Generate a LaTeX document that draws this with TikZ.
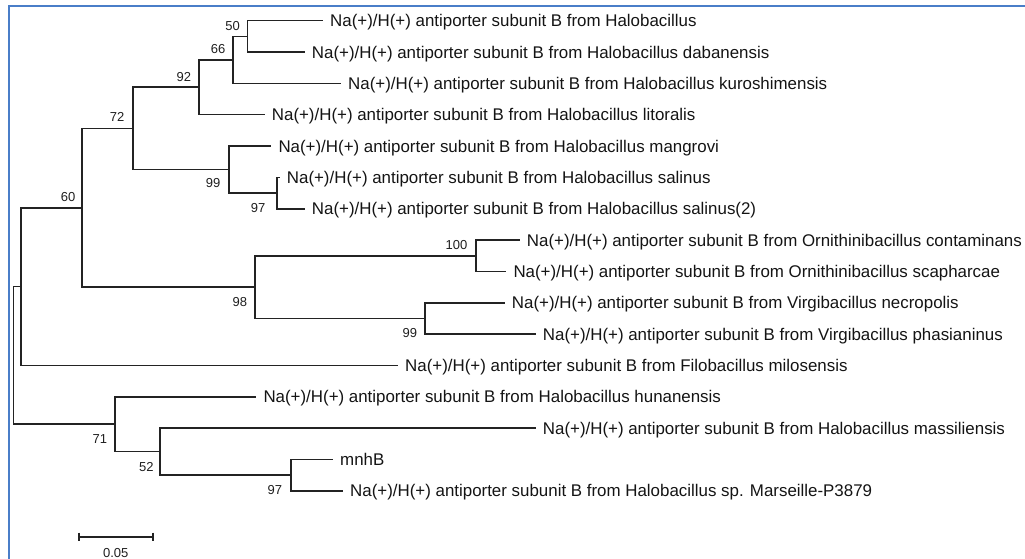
\documentclass[tikz,border=0pt]{standalone}
\usepackage{fontspec}
\newfontfamily\arialf{Liberation Sans}
\newcommand\leaffont{\arialf\fontsize{16.9}{20}\selectfont}
\newcommand\numfont{\arialf\fontsize{13}{15}\selectfont}
\definecolor{frameblue}{RGB}{74,126,200}
\definecolor{treeline}{RGB}{35,35,35}
\begin{document}
\begin{tikzpicture}[x=1pt,y=-1pt,
  br/.style={line width=1.6pt, draw=treeline},
  leaf/.style={anchor=west, font=\leaffont, text=black!92, text height=12.1pt, text depth=0pt, inner ysep=0pt, inner xsep=7pt},
  num/.style={anchor=east, font=\numfont, text=black!88, text height=9.3pt, text depth=0pt, inner sep=0pt}]
\useasboundingbox (0,0) rectangle (1025,559);
% frame
\draw[frameblue, line width=2.2pt] (9,559) -- (9,5.7) -- (1025,5.7);
% internal nodes
\coordinate (root) at (13.3,355.4);
\coordinate (nA) at (20.7,286.6);
\coordinate (n60) at (81.7,207.8);
\coordinate (n72) at (132.7,128.45);
\coordinate (n92) at (199,87.3);
\coordinate (n66) at (232.7,59.9);
\coordinate (n50) at (247.3,36.35);
\coordinate (n99a) at (228.7,169.6);
\coordinate (n97a) at (276.7,193.05);
\coordinate (n98) at (255,287.1);
\coordinate (n100) at (476,255.75);
\coordinate (n99b) at (425,318.45);
\coordinate (n71) at (115,424.2);
\coordinate (n52) at (160,451.6);
\coordinate (n97c) at (291,475.15);
% leaves
\node[leaf] (r1) at (323,20.7) {Na(+)/H(+) antiporter subunit B from Halobacillus};
\node[leaf] (r2) at (304.7,52.0) {Na(+)/H(+) antiporter subunit B from Halobacillus dabanensis};
\node[leaf] (r3) at (341,83.4) {Na(+)/H(+) antiporter subunit B from Halobacillus kuroshimensis};
\node[leaf] (r4) at (264.7,114.7) {Na(+)/H(+) antiporter subunit B from Halobacillus litoralis};
\node[leaf] (r5) at (271.3,146.1) {Na(+)/H(+) antiporter subunit B from Halobacillus mangrovi};
\node[leaf] (r6) at (279.7,177.4) {Na(+)/H(+) antiporter subunit B from Halobacillus salinus};
\node[leaf] (r7) at (304.7,208.7) {Na(+)/H(+) antiporter subunit B from Halobacillus salinus(2)};
\node[leaf] (r8) at (519.7,240.1) {Na(+)/H(+) antiporter subunit B from Ornithinibacillus contaminans};
\node[leaf] (r9) at (506.3,271.4) {Na(+)/H(+) antiporter subunit B from Ornithinibacillus scapharcae};
\node[leaf] (r10) at (504.7,302.8) {Na(+)/H(+) antiporter subunit B from Virgibacillus necropolis};
\node[leaf] (r11) at (535.7,334.1) {Na(+)/H(+) antiporter subunit B from Virgibacillus phasianinus};
\node[leaf] (r12) at (398,365.4) {Na(+)/H(+) antiporter subunit B from Filobacillus milosensis};
\node[leaf] (r13) at (256.3,396.8) {Na(+)/H(+) antiporter subunit B from Halobacillus hunanensis};
\node[leaf] (r14) at (535.7,428.1) {Na(+)/H(+) antiporter subunit B from Halobacillus massiliensis};
\node[leaf] (r15) at (333,459.5) {mnhB};
\node[leaf] (r16) at (343,490.8) {Na(+)/H(+) antiporter subunit B from Halobacillus sp. Marseille-P3879};
% branches
\draw[br] (root) |- (nA);
\draw[br] (root) |- (n71);
\draw[br] (nA) |- (n60);
\draw[br] (nA) |- (r12.west);
\draw[br] (n60) |- (n72);
\draw[br] (n60) |- (n98);
\draw[br] (n72) |- (n92);
\draw[br] (n72) |- (n99a);
\draw[br] (n92) |- (n66);
\draw[br] (n92) |- (r4.west);
\draw[br] (n66) |- (n50);
\draw[br] (n66) |- (r3.west);
\draw[br] (n50) |- (r1.west);
\draw[br] (n50) |- (r2.west);
\draw[br] (n99a) |- (r5.west);
\draw[br] (n99a) |- (n97a);
\draw[br] (n97a) |- (r6.west);
\draw[br] (n97a) |- (r7.west);
\draw[br] (n98) |- (n100);
\draw[br] (n98) |- (n99b);
\draw[br] (n100) |- (r8.west);
\draw[br] (n100) |- (r9.west);
\draw[br] (n99b) |- (r10.west);
\draw[br] (n99b) |- (r11.west);
\draw[br] (n71) |- (r13.west);
\draw[br] (n71) |- (n52);
\draw[br] (n52) |- (r14.west);
\draw[br] (n52) |- (n97c);
\draw[br] (n97c) |- (r15.west);
\draw[br] (n97c) |- (r16.west);
% bootstrap values
\node[num] (l50) at (240,26) {50};
\node[num] (l66) at (225.5,49.3) {66};
\node[num] (l92) at (191.2,76.7) {92};
\node[num] (l72) at (124.5,117.3) {72};
\node[num] (l99a) at (220.5,183.3) {99};
\node[num] (l97a) at (265.5,208.3) {97};
\node[num] (l60) at (75.5,196.7) {60};
\node[num] (l100) at (467.5,245) {100};
\node[num] (l98) at (247.2,301.7) {98};
\node[num] (l99b) at (417.2,333.3) {99};
\node[num] (l71) at (107.2,439.3) {71};
\node[num] (l52) at (153.9,466.7) {52};
\node[num] (l97c) at (282.2,490) {97};
% scale bar
\coordinate (sb1) at (79,536.7);
\coordinate (sb2) at (152.7,536.7);
\draw[br] (sb1) -- (sb2);
\draw[br] ([yshift=4pt]sb1) -- ([yshift=-4pt]sb1);
\draw[br] ([yshift=4pt]sb2) -- ([yshift=-4pt]sb2);
\node[num, anchor=center] (sbl) at (115.8,553.3) {0.05};
\end{tikzpicture}
\end{document}
